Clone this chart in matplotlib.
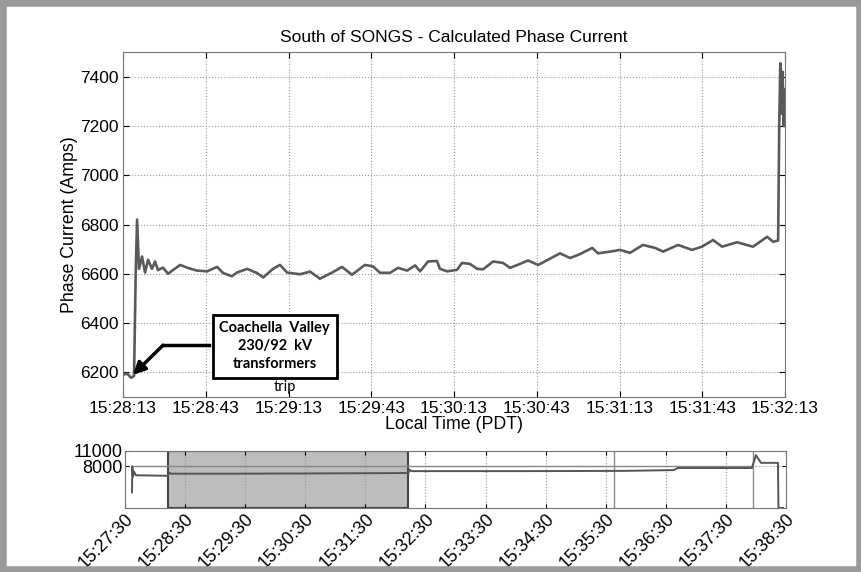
import matplotlib.pyplot as plt
from matplotlib.patches import Rectangle

plt.rcParams['font.family'] = ['Liberation Sans', 'DejaVu Sans']

# main plot: seconds after 15:28:13 and calculated phase current (A)
t_main = [0, 1.5, 2.9, 4.0, 4.6, 5.1, 5.8, 6.9, 8.0, 9.1, 10.5, 11.6, 12.7, 14.5,
          16.3, 18.1, 20.7, 23.2, 26.8, 30.5, 34.1, 36.3, 39.5, 41.3, 45.0, 48.6,
          50.8, 54.4, 56.9, 59.5, 64.2, 67.8, 71.4, 75.8, 79.4, 83.0, 87.7, 90.6,
          93.2, 96.8, 99.7, 103.0, 105.9, 107.7, 110.6, 113.8, 114.9, 117.5, 121.1,
          122.9, 125.8, 128.4, 130.5, 134.2, 137.8, 140.3, 143.9, 146.8, 150.5,
          154.1, 158.4, 162.1, 165.7, 170.1, 172.2, 176.6, 180.2, 183.8, 188.5,
          192.9, 195.8, 201.2, 206.3, 209.9, 213.9, 217.2, 222.6, 228.4, 233.5,
          235.7, 237.5, 237.9, 238.3, 238.7, 239.1, 239.5, 239.8, 240]
amps_main = [6190, 6195, 6178, 6185, 6600, 6820, 6620, 6670, 6605, 6657, 6620, 6650,
             6615, 6625, 6600, 6615, 6636, 6625, 6613, 6610, 6628, 6603, 6590, 6605,
             6620, 6603, 6585, 6620, 6636, 6605, 6598, 6609, 6580, 6605, 6628, 6596,
             6636, 6630, 6604, 6604, 6624, 6613, 6634, 6610, 6650, 6652, 6620, 6610,
             6616, 6644, 6640, 6620, 6618, 6650, 6644, 6624, 6640, 6654, 6636, 6657,
             6683, 6664, 6680, 6705, 6683, 6690, 6697, 6685, 6717, 6705, 6690, 6717,
             6697, 6710, 6737, 6710, 6728, 6710, 6750, 6730, 6735, 7200, 7455, 7250,
             7420, 7200, 7350, 7200]
main_ticks = [0, 30, 60, 90, 120, 150, 180, 210, 240]
main_labels = ['15:28:13', '15:28:43', '15:29:13', '15:29:43', '15:30:13',
               '15:30:43', '15:31:13', '15:31:43', '15:32:13']
amp_ticks = [6200, 6400, 6600, 6800, 7000, 7200, 7400]

# overview plot: seconds after 15:27:30
t_over = [7, 7.3, 8, 9, 11, 43, 44, 46, 100, 180, 283, 284, 286, 400, 500, 548,
          552, 626, 630, 635, 652, 652.5, 657]
amps_over = [3000, 8000, 6000, 7000, 6300, 6200, 6800, 6600, 6600, 6650, 6730,
             7400, 7100, 7100, 7150, 7300, 7700, 7700, 10200, 8700, 8700, 0, 0]
t_limit = [7, 627]
amps_limit = [8000, 8000]
zoom_window = [43, 283]
markers = [488, 627]
over_ticks = [0, 60, 120, 180, 240, 300, 360, 420, 480, 540, 600, 660]
over_labels = ['15:27:30', '15:28:30', '15:29:30', '15:30:30', '15:31:30',
               '15:32:30', '15:33:30', '15:34:30', '15:35:30', '15:36:30',
               '15:37:30', '15:38:30']

fig = plt.figure(figsize=(8.62, 5.72), dpi=100)
fig.patches.append(Rectangle((0, 0), 1, 1, transform=fig.transFigure, fill=False,
                             edgecolor='#9a9a9a', linewidth=9))

ax = fig.add_axes([0.1427, 0.306, 0.768, 0.603])
ax.plot(t_main, amps_main, color='#5a5a5a', linewidth=1.9)
ax.set_xlim(0, 240)
ax.set_ylim(6100, 7500)
ax.set_xticks(main_ticks)
ax.set_xticklabels(main_labels)
ax.set_yticks(amp_ticks)
ax.tick_params(direction='in', top=True, right=True, labelsize=12.5, length=4, pad=3)
ax.grid(True, linestyle=':', color='#999999', linewidth=0.8)
ax.set_title('South of SONGS - Calculated Phase Current', fontsize=12.5, pad=7)
ax.set_xlabel('Local Time (PDT)', fontsize=12.8, labelpad=0)
ax.set_ylabel('Phase Current (Amps)', fontsize=12.8, labelpad=2)
for s in ax.spines.values():
    s.set_color('#777777')

# annotation
ax.annotate('', xy=(3.6, 6190), xytext=(14.5, 6310),
            arrowprops=dict(arrowstyle='-|>', color='black', lw=2.5,
                            mutation_scale=18, shrinkA=0, shrinkB=0))
ax.plot([14.5, 31], [6310, 6310], color='black', linewidth=2.5)
ax.text(55, 6306, 'Coachella  Valley\n230/92  kV\ntransformers', ha='center',
        va='center', fontsize=10.5, fontweight='bold', family=['Lato', 'DejaVu Sans'],
        linespacing=1.35,
        bbox=dict(boxstyle='square,pad=0.45', facecolor='white', edgecolor='black',
                  linewidth=2))
ax.text(58.5, 6140, 'trip', ha='center', va='center', fontsize=10.5,
        family=['Lato', 'DejaVu Sans'])

ax2 = fig.add_axes([0.145, 0.112, 0.7668, 0.0997])
ax2.axvspan(zoom_window[0], zoom_window[1], facecolor='#bdbdbd', edgecolor='#444444',
            linewidth=1.5)
for m in markers:
    ax2.axvline(m, color='#888888', linewidth=1)
ax2.plot(t_limit, amps_limit, color='#888888', linewidth=1)
ax2.plot(t_over, amps_over, color='#555555', linewidth=1.4)
ax2.set_xlim(0, 660)
ax2.set_ylim(0, 11000)
ax2.set_yticks([8000, 11000])
ax2.set_xticks(over_ticks)
ax2.set_xticklabels(over_labels, rotation=45, ha='right', va='top',
                    rotation_mode='anchor')
ax2.tick_params(direction='in', top=True, right=True, labelsize=13, length=3, pad=2)
ax2.grid(True, linestyle=':', color='#999999', linewidth=0.8)
for s in ax2.spines.values():
    s.set_color('#777777')

fig.savefig('out.png', dpi=100)
